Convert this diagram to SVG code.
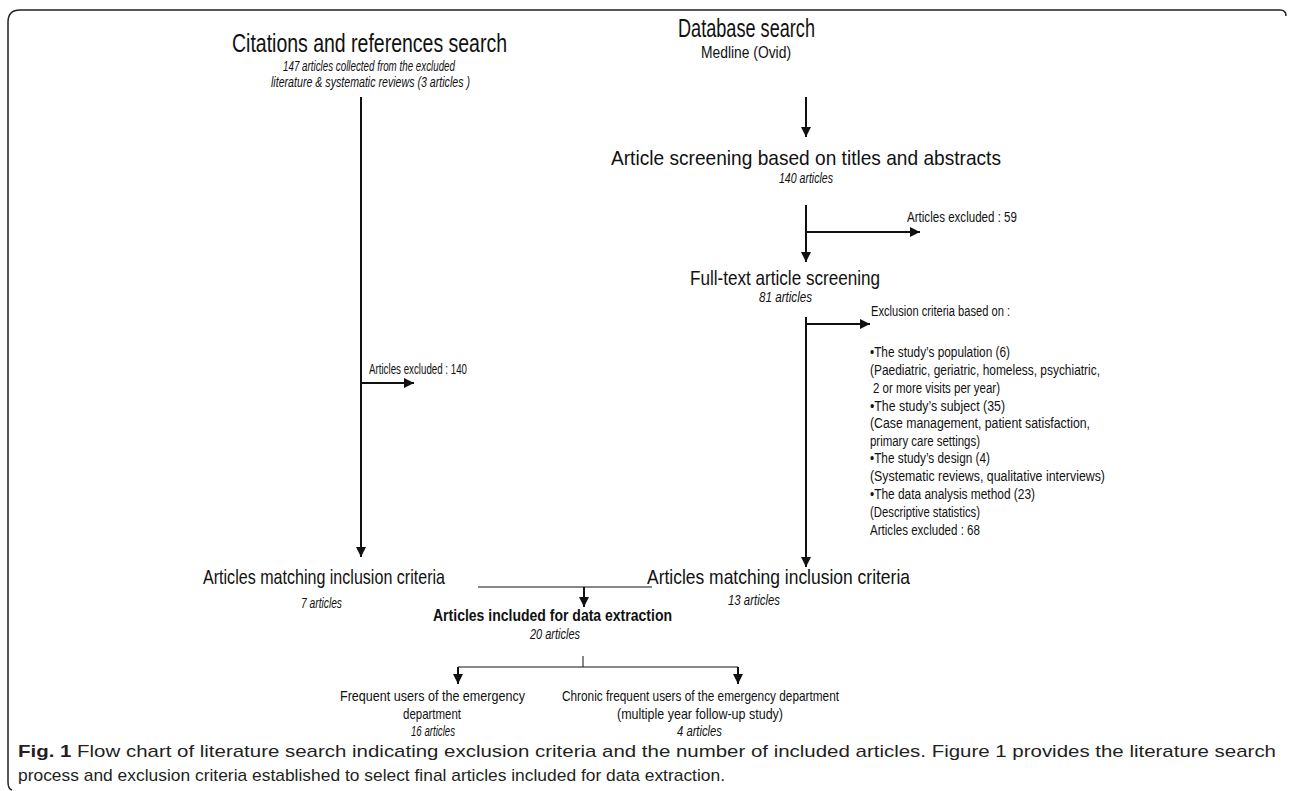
<svg xmlns="http://www.w3.org/2000/svg" width="1290" height="791" viewBox="0 0 1290 791">
<defs>
<marker id="ah" viewBox="0 0 10 10" refX="10" refY="5" markerWidth="5" markerHeight="5" orient="auto" markerUnits="strokeWidth">
<path d="M0,0 L10,5 L0,10 z" fill="#111"/>
</marker>
<style>
text{font-family:"Liberation Sans",Arial,sans-serif;fill:#111}
.t1{font-size:25px}
.t2{font-size:21px}
.t3{font-size:16px}
.it{font-size:14px;font-style:italic}
.sm{font-size:14px}
.bl{font-size:14.5px}
.bd{font-size:17px;font-weight:bold}
.cap{font-size:17px;fill:#231f20}
.c{text-anchor:middle}
.ln{stroke:#111;stroke-width:2;fill:none}
.lnA{stroke:#111;stroke-width:2;fill:none;marker-end:url(#ah)}
.thin{stroke:#111;stroke-width:1;fill:none}
</style>
</defs>
<rect width="1290" height="791" fill="#fff"/>
<path d="M1286,16 Q1286,10 1280,10 L20,10 Q8,10 8,22 L8,782 Q8,789 12,790" fill="none" stroke="#222" stroke-width="1.5"/>

<g id="connectors">
<path class="lnA" d="M361,97 L361,557"/>
<path class="lnA" d="M361,383 L414,383"/>
<path class="lnA" d="M806,97 L806,137"/>
<path class="lnA" d="M806,205 L806,262"/>
<path class="lnA" d="M806,232 L920,232"/>
<path class="lnA" d="M806,317 L806,567"/>
<path class="lnA" d="M806,324 L870,324"/>
<path class="thin" d="M478,587 L652,587"/>
<path class="lnA" d="M584,587 L584,607"/>
<path class="thin" d="M583,656 L583,667"/>
<path class="thin" d="M458,667 L738,667"/>
<path class="lnA" d="M458,667 L458,684"/>
<path class="lnA" d="M738,667 L738,684"/>
</g>

<g id="citations">
<text class="t1" x="232" y="52" textLength="275" lengthAdjust="spacingAndGlyphs">Citations and references search</text>
<text class="it" x="283" y="71" textLength="172" lengthAdjust="spacingAndGlyphs">147 articles collected from the excluded</text>
<text class="it" x="271" y="87" textLength="199" lengthAdjust="spacingAndGlyphs">literature &amp; systematic reviews (3 articles )</text>
</g>

<g id="excluded140">
<text class="sm" x="369" y="374" textLength="98" lengthAdjust="spacingAndGlyphs">Articles excluded : 140</text>
</g>

<g id="left-matching">
<text class="t2" x="203" y="584" textLength="242" lengthAdjust="spacingAndGlyphs">Articles matching inclusion criteria</text>
<text class="it" x="301" y="608" textLength="41" lengthAdjust="spacingAndGlyphs">7 articles</text>
</g>

<g id="database">
<text class="t1" x="678" y="37" textLength="137" lengthAdjust="spacingAndGlyphs">Database search</text>
<text class="t3 c" x="746" y="58" textLength="90" lengthAdjust="spacingAndGlyphs">Medline (Ovid)</text>
</g>

<g id="screening">
<text class="t2" x="611" y="165" textLength="390" lengthAdjust="spacingAndGlyphs">Article screening based on titles and abstracts</text>
<text class="it" x="779" y="183" textLength="54" lengthAdjust="spacingAndGlyphs">140 articles</text>
</g>

<g id="excluded59">
<text class="sm" x="907" y="222" textLength="110" lengthAdjust="spacingAndGlyphs">Articles excluded : 59</text>
</g>

<g id="fulltext">
<text class="t2" x="690" y="285" textLength="190" lengthAdjust="spacingAndGlyphs">Full-text article screening</text>
<text class="it" x="759" y="302" textLength="53" lengthAdjust="spacingAndGlyphs">81 articles</text>
</g>

<g id="exclusion-criteria">
<text class="sm" x="871" y="316" textLength="139" lengthAdjust="spacingAndGlyphs">Exclusion criteria based on :</text>
<text class="sm" x="870" y="357" textLength="140" lengthAdjust="spacingAndGlyphs">•The study’s population (6)</text>
<text class="sm" x="870" y="375" textLength="230" lengthAdjust="spacingAndGlyphs">(Paediatric, geriatric, homeless, psychiatric,</text>
<text class="sm" x="873" y="393" textLength="127" lengthAdjust="spacingAndGlyphs">2 or more visits per year)</text>
<text class="sm" x="870" y="411" textLength="135" lengthAdjust="spacingAndGlyphs">•The study’s subject (35)</text>
<text class="sm" x="870" y="428" textLength="220" lengthAdjust="spacingAndGlyphs">(Case management, patient satisfaction,</text>
<text class="sm" x="870" y="446" textLength="110" lengthAdjust="spacingAndGlyphs">primary care settings)</text>
<text class="sm" x="870" y="463" textLength="120" lengthAdjust="spacingAndGlyphs">•The study’s design (4)</text>
<text class="sm" x="870" y="481" textLength="235" lengthAdjust="spacingAndGlyphs">(Systematic reviews, qualitative interviews)</text>
<text class="sm" x="870" y="499" textLength="165" lengthAdjust="spacingAndGlyphs">•The data analysis method (23)</text>
<text class="sm" x="870" y="517" textLength="110" lengthAdjust="spacingAndGlyphs">(Descriptive statistics)</text>
<text class="sm" x="870" y="535" textLength="110" lengthAdjust="spacingAndGlyphs">Articles excluded : 68</text>
</g>

<g id="right-matching">
<text class="t2" x="647" y="584" textLength="263" lengthAdjust="spacingAndGlyphs">Articles matching inclusion criteria</text>
<text class="it" x="728" y="605" textLength="52" lengthAdjust="spacingAndGlyphs">13 articles</text>
</g>

<g id="included">
<text class="bd" x="433" y="621" textLength="239" lengthAdjust="spacingAndGlyphs">Articles included for data extraction</text>
<text class="it" x="530" y="639" textLength="50" lengthAdjust="spacingAndGlyphs">20 articles</text>
</g>

<g id="frequent">
<text class="bl" x="340" y="701" textLength="185" lengthAdjust="spacingAndGlyphs">Frequent users of the emergency</text>
<text class="bl" x="403" y="719" textLength="58" lengthAdjust="spacingAndGlyphs">department</text>
<text class="it" x="411" y="736" textLength="44" lengthAdjust="spacingAndGlyphs">16 articles</text>
</g>

<g id="chronic">
<text class="bl" x="562" y="701" textLength="277" lengthAdjust="spacingAndGlyphs">Chronic frequent users of the emergency department</text>
<text class="bl" x="617" y="719" textLength="166" lengthAdjust="spacingAndGlyphs">(multiple year follow-up study)</text>
<text class="it" x="677" y="736" textLength="45" lengthAdjust="spacingAndGlyphs">4 articles</text>
</g>

<g id="caption">
<text class="cap" x="18" y="757" textLength="1258" lengthAdjust="spacingAndGlyphs"><tspan font-weight="bold">Fig. 1</tspan> Flow chart of literature search indicating exclusion criteria and the number of included articles. Figure 1 provides the literature search</text>
<text class="cap" x="18" y="781" textLength="707" lengthAdjust="spacingAndGlyphs">process and exclusion criteria established to select final articles included for data extraction.</text>
</g>
</svg>
